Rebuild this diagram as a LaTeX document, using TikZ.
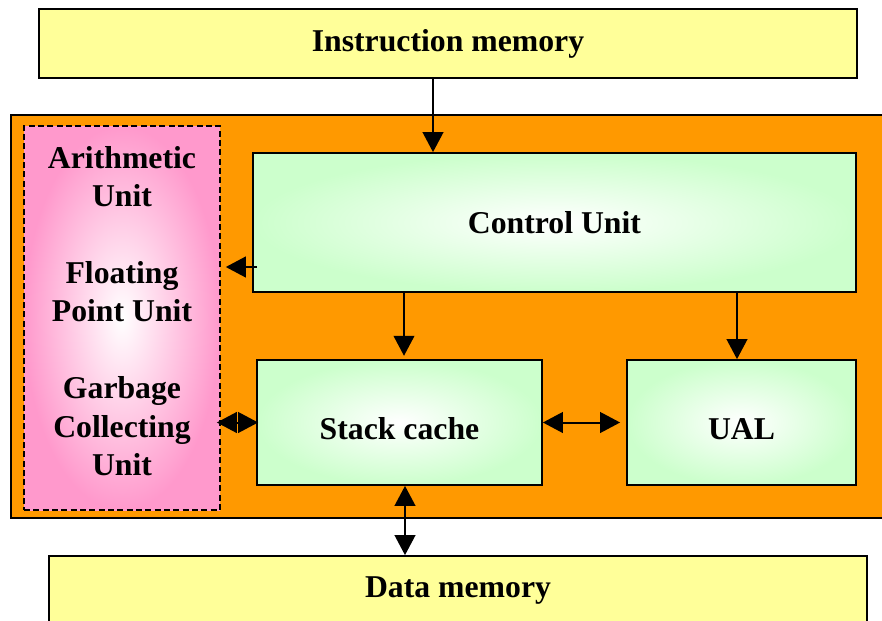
\documentclass[tikz,border=0pt]{standalone}
\usepackage{fontspec}
\setmainfont{Liberation Serif}
\usetikzlibrary{arrows.meta,calc}
\definecolor{memyellow}{HTML}{FFFF99}
\definecolor{cpuorange}{HTML}{FF9900}
\definecolor{unitgreen}{HTML}{CCFFCC}
\definecolor{unitpink}{HTML}{FF99CC}

\begin{document}
\begin{tikzpicture}[x=0.75pt,y=-0.75pt,
  lbl/.style={font=\fontsize{23.8}{28.8}\selectfont\bfseries},
  mem/.style={draw, line width=1.3pt, fill=memyellow, inner sep=0pt,
    minimum width=613.5pt, minimum height=51.75pt, lbl},
  unit/.style={draw, line width=1.3pt, inner sep=0pt, shading=radial,
    inner color=white, outer color=unitgreen, lbl},
  tip/.tip={Triangle[length=15pt,width=15.5pt]},
  arr/.style={line width=1.5pt, -tip},
  darr/.style={line width=1.5pt, tip-tip},
]
\useasboundingbox (0,0) rectangle (882,621);

% processor core background
\path[fill=cpuorange, draw=black, line width=1.3pt] (11,115) rectangle (892,518);

% memories
\node[mem] (imem) at (448,43.5) {Instruction memory};
\node[mem] (dmem) at (458,590.5) {Data memory};

% auxiliary units column
\node[draw, dashed, dash pattern=on 4.5pt off 2.5pt, line width=1.2pt,
  shading=radial, inner color=white, outer color=unitpink,
  minimum width=147pt, minimum height=288pt] (pink) at (122,318) {};
\node[lbl, align=center, inner sep=0pt] (pinktxt) at (122,311)
  {Arithmetic\\Unit\\[28.8pt]Floating\\Point Unit\\[28.8pt]Garbage\\Collecting\\Unit};

% core units
\node[unit, minimum width=452.25pt, minimum height=104.25pt] (ctrl) at (554.5,222.5) {Control Unit};
\node[unit, minimum width=213.75pt, minimum height=93.75pt,
  text height=24.8pt, text depth=0pt] (stack) at (399.5,422.5) {Stack cache};
\node[unit, minimum width=171.75pt, minimum height=93.75pt,
  text height=24.8pt, text depth=0pt] (ual) at (741.5,422.5) {UAL};

% connections
\draw[arr] ($(imem.south)+(-15,0)$) coordinate (a1) -- (a1 |- ctrl.north);
\coordinate (cl) at ($(ctrl.west)+(5,44.5)$);
\draw[arr, shorten >=3.75pt] (cl) -- (cl -| pink.east);
\coordinate (a3) at ($(stack.north)+(4.5,0)$);
\draw[arr, shorten >=2.5pt] (a3 |- ctrl.south) -- (a3);
\coordinate (a4) at ($(ual.north)+(-4.5,0)$);
\draw[arr] (a4 |- ctrl.south) -- (a4);
\draw[darr] ($(stack.west -| pink.east)+(-4,0)$) -- ($(stack.west)+(2,0)$);
\draw[darr, shorten >=4.5pt] (stack.east) -- (ual.west);
\coordinate (a5) at ($(stack.south)+(5.5,0)$);
\draw[darr] (a5) -- (a5 |- dmem.north);
\end{tikzpicture}
\end{document}
